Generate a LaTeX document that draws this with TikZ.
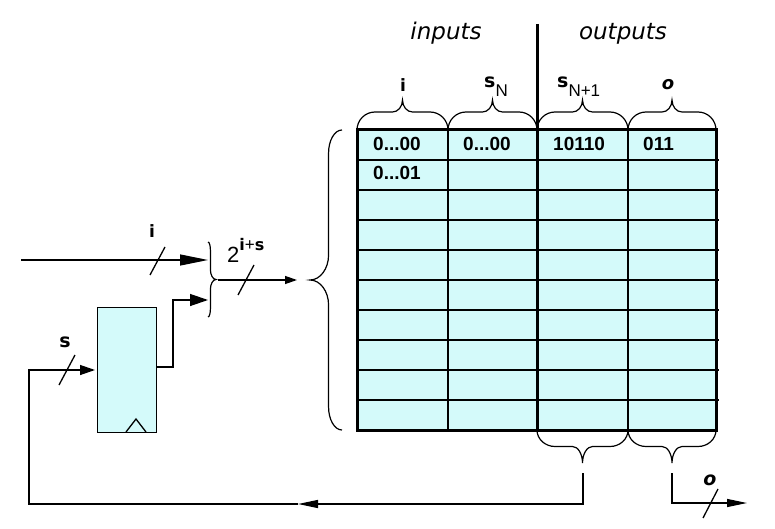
\documentclass[tikz,border=0pt]{standalone}
\usepackage{fontspec}
\setmainfont{Liberation Sans}
\newfontfamily\cfont{DejaVu Sans}
\usetikzlibrary{arrows.meta}
\definecolor{cellcyan}{RGB}{212,250,250}

% horizontal brace: #1 xa, #2 xb, #3 y0, #4 depth (positive = tip upward), #5 end length, #6 tip length, #7 flat ratio
\newcommand\HBrace[7]{%
\draw[brl] ({#1},{#3}) .. controls ({#1},{#3-0.55*(#7)*(#4)}) and ({#1+0.45*(#5)},{#3-(#7)*(#4)}) .. ({#1+(#5)},{#3-(#7)*(#4)})
 -- ({(#1+#2)/2-(#6)},{#3-(#7)*(#4)})
 .. controls ({(#1+#2)/2-0.45*(#6)},{#3-(#7)*(#4)}) and ({(#1+#2)/2},{#3-(#4)+0.55*(1-(#7))*(#4)}) .. ({(#1+#2)/2},{#3-(#4)})
 .. controls ({(#1+#2)/2},{#3-(#4)+0.55*(1-(#7))*(#4)}) and ({(#1+#2)/2+0.45*(#6)},{#3-(#7)*(#4)}) .. ({(#1+#2)/2+(#6)},{#3-(#7)*(#4)})
 -- ({#2-(#5)},{#3-(#7)*(#4)})
 .. controls ({#2-0.45*(#5)},{#3-(#7)*(#4)}) and ({#2},{#3-0.55*(#7)*(#4)}) .. ({#2},{#3});}
% vertical brace: #1 ya, #2 yb, #3 x0, #4 depth (positive = tip left), #5 end, #6 tip, #7 flat ratio
\newcommand\VBrace[7]{%
\draw[brl] ({#3},{#1}) .. controls ({#3-0.55*(#7)*(#4)},{#1}) and ({#3-(#7)*(#4)},{#1+0.45*(#5)}) .. ({#3-(#7)*(#4)},{#1+(#5)})
 -- ({#3-(#7)*(#4)},{(#1+#2)/2-(#6)})
 .. controls ({#3-(#7)*(#4)},{(#1+#2)/2-0.45*(#6)}) and ({#3-(#4)+0.55*(1-(#7))*(#4)},{(#1+#2)/2}) .. ({#3-(#4)},{(#1+#2)/2})
 .. controls ({#3-(#4)+0.55*(1-(#7))*(#4)},{(#1+#2)/2}) and ({#3-(#7)*(#4)},{(#1+#2)/2+0.45*(#6)}) .. ({#3-(#7)*(#4)},{(#1+#2)/2+(#6)})
 -- ({#3-(#7)*(#4)},{#2-(#5)})
 .. controls ({#3-(#7)*(#4)},{#2-0.45*(#5)}) and ({#3-0.55*(#7)*(#4)},{#2}) .. ({#3},{#2});}

\tikzset{
  brl/.style={line width=1.2pt, black},
  wire/.style={line width=1.3pt, black},
  grid/.style={line width=1.5pt, black},
  heavy/.style={line width=3pt, black},
  slash/.style={line width=1.3pt, black},
  cell/.style={inner sep=0pt, anchor=base west, font=\fontsize{19}{22}\selectfont\bfseries},
  lab/.style={inner sep=0pt, anchor=base, font=\cfont\bfseries\fontsize{17}{17}\selectfont},
  ilab/.style={inner sep=0pt, anchor=base, font=\cfont\itshape\fontsize{22}{22}\selectfont},
}
\newcommand\cs{{\cfont\bfseries\fontsize{19}{19}\selectfont s}}

\begin{document}
\begin{tikzpicture}[x=1pt,y=-1pt]
\useasboundingbox (0,0) rectangle (775,529);

% ---------- table ----------
\node[fill=cellcyan, draw=none, minimum width=359pt, minimum height=300pt, inner sep=0pt, anchor=north west] (tbl) at (357,130) {};
\foreach \yy in {160,190,...,400} \draw[grid] (357,\yy) -- (719,\yy);
\draw[grid] (448,130) -- (448,430);
\draw[grid] (628,130) -- (628,430);
\draw[heavy] (357,130) rectangle (716,430);
\draw[heavy] (537,24) -- (537,430);

\node[cell] (c11) at (373,151) {0...00};
\node[cell] (c21) at (373,180) {0...01};
\node[cell] (c12) at (463,151) {0...00};
\node[cell] (c13) at (553,151) {10110};
\node[cell] (c14) at (643,151) {011};

% headings
\node[ilab, font=\cfont\itshape\fontsize{23}{23}\selectfont] (hin) at (446,40) {inputs};
\node[ilab, font=\cfont\itshape\fontsize{23}{23}\selectfont] (hout) at (623,40) {outputs};

% top braces
\HBrace{357}{448}{130}{30}{18}{10}{0.6}
\HBrace{448}{537}{130}{30}{18}{10}{0.6}
\HBrace{537}{628}{130}{30}{18}{10}{0.6}
\HBrace{628}{716}{130}{30}{18}{10}{0.6}

\node[lab] (ti) at (403,92) {i};
\node[inner sep=0pt, anchor=base west] (tsn) at (484,88) {\cs{\fontsize{17}{17}\selectfont\raisebox{-9pt}{N}}};
\node[inner sep=0pt, anchor=base west] (tsn1) at (557,88) {\cs{\fontsize{17}{17}\selectfont\raisebox{-9pt}{N+1}}};
\node[ilab, font=\cfont\bfseries\itshape\fontsize{18}{18}\selectfont] (to) at (668,90) {o};

% bottom braces
\HBrace{537}{628}{430}{-33}{18}{10}{0.5}
\HBrace{628}{716}{430}{-33}{18}{10}{0.5}
\coordinate (bsn) at (583,473);
\coordinate (bo) at (672,473);

% big brace
\VBrace{130}{430}{342}{32}{23}{25}{0.42}
\coordinate (bigtip) at (309,280);

% small brace
\VBrace{242}{317}{208}{-8}{8}{10}{0.3}
\coordinate (smtip) at (218,280);
\coordinate (smi) at (208,260);
\coordinate (sms) at (208,300);

% ---------- register ----------
\node[draw, line width=1.3pt, fill=cellcyan, minimum width=59pt, minimum height=125pt, inner sep=0pt, anchor=north west] (reg) at (97,307) {};
\draw[wire] (126,432) -- (136,419) -- (146,432);
\coordinate (regout) at (156,367);
\coordinate (regin) at (95,370);

% ---------- wires ----------
\coordinate (iin) at (21,260);
\draw[wire, -{Triangle[length=28pt,width=11pt]}] (iin) -- (smi);
\draw[slash] (150,275) -- (165,247);
\node[lab] (li) at (152,237) {i};

\draw[wire, -{Triangle[length=18pt,width=12pt]}] (regout) -- (173,367) -- (173,300) -- (sms);

\draw[wire, -{Triangle[length=12pt,width=8pt]}] (smtip) -- (297,280);
\draw[slash] (238,295) -- (254,265);
\node[inner sep=0pt, anchor=base west] (l2) at (227,262) {{\fontsize{22}{22}\selectfont 2}\raisebox{12pt}{{\cfont\bfseries\fontsize{16}{16}\selectfont i}{\fontsize{17}{17}\selectfont +}{\cfont\bfseries\fontsize{16}{16}\selectfont s}}};

\coordinate (fbmid) at (298,504);
\draw[wire, -{Triangle[length=20pt,width=8pt]}] (bsn) |- (fbmid);
\draw[wire, -{Triangle[length=15pt,width=10pt]}] (fbmid) -- (29,504) -- (29,370) -- (regin);
\draw[slash] (59,385) -- (75,355);
\node[inner sep=0pt, anchor=base] (ls) at (65,347) {\cs};

\coordinate (oout) at (747,503);
\draw[wire, -{Triangle[length=20pt,width=8pt]}] (bo) |- (oout);
\draw[slash] (703,518) -- (718,489);
\node[ilab, font=\cfont\bfseries\itshape\fontsize{19}{19}\selectfont] (lo) at (710,485) {o};
\end{tikzpicture}
\end{document}
